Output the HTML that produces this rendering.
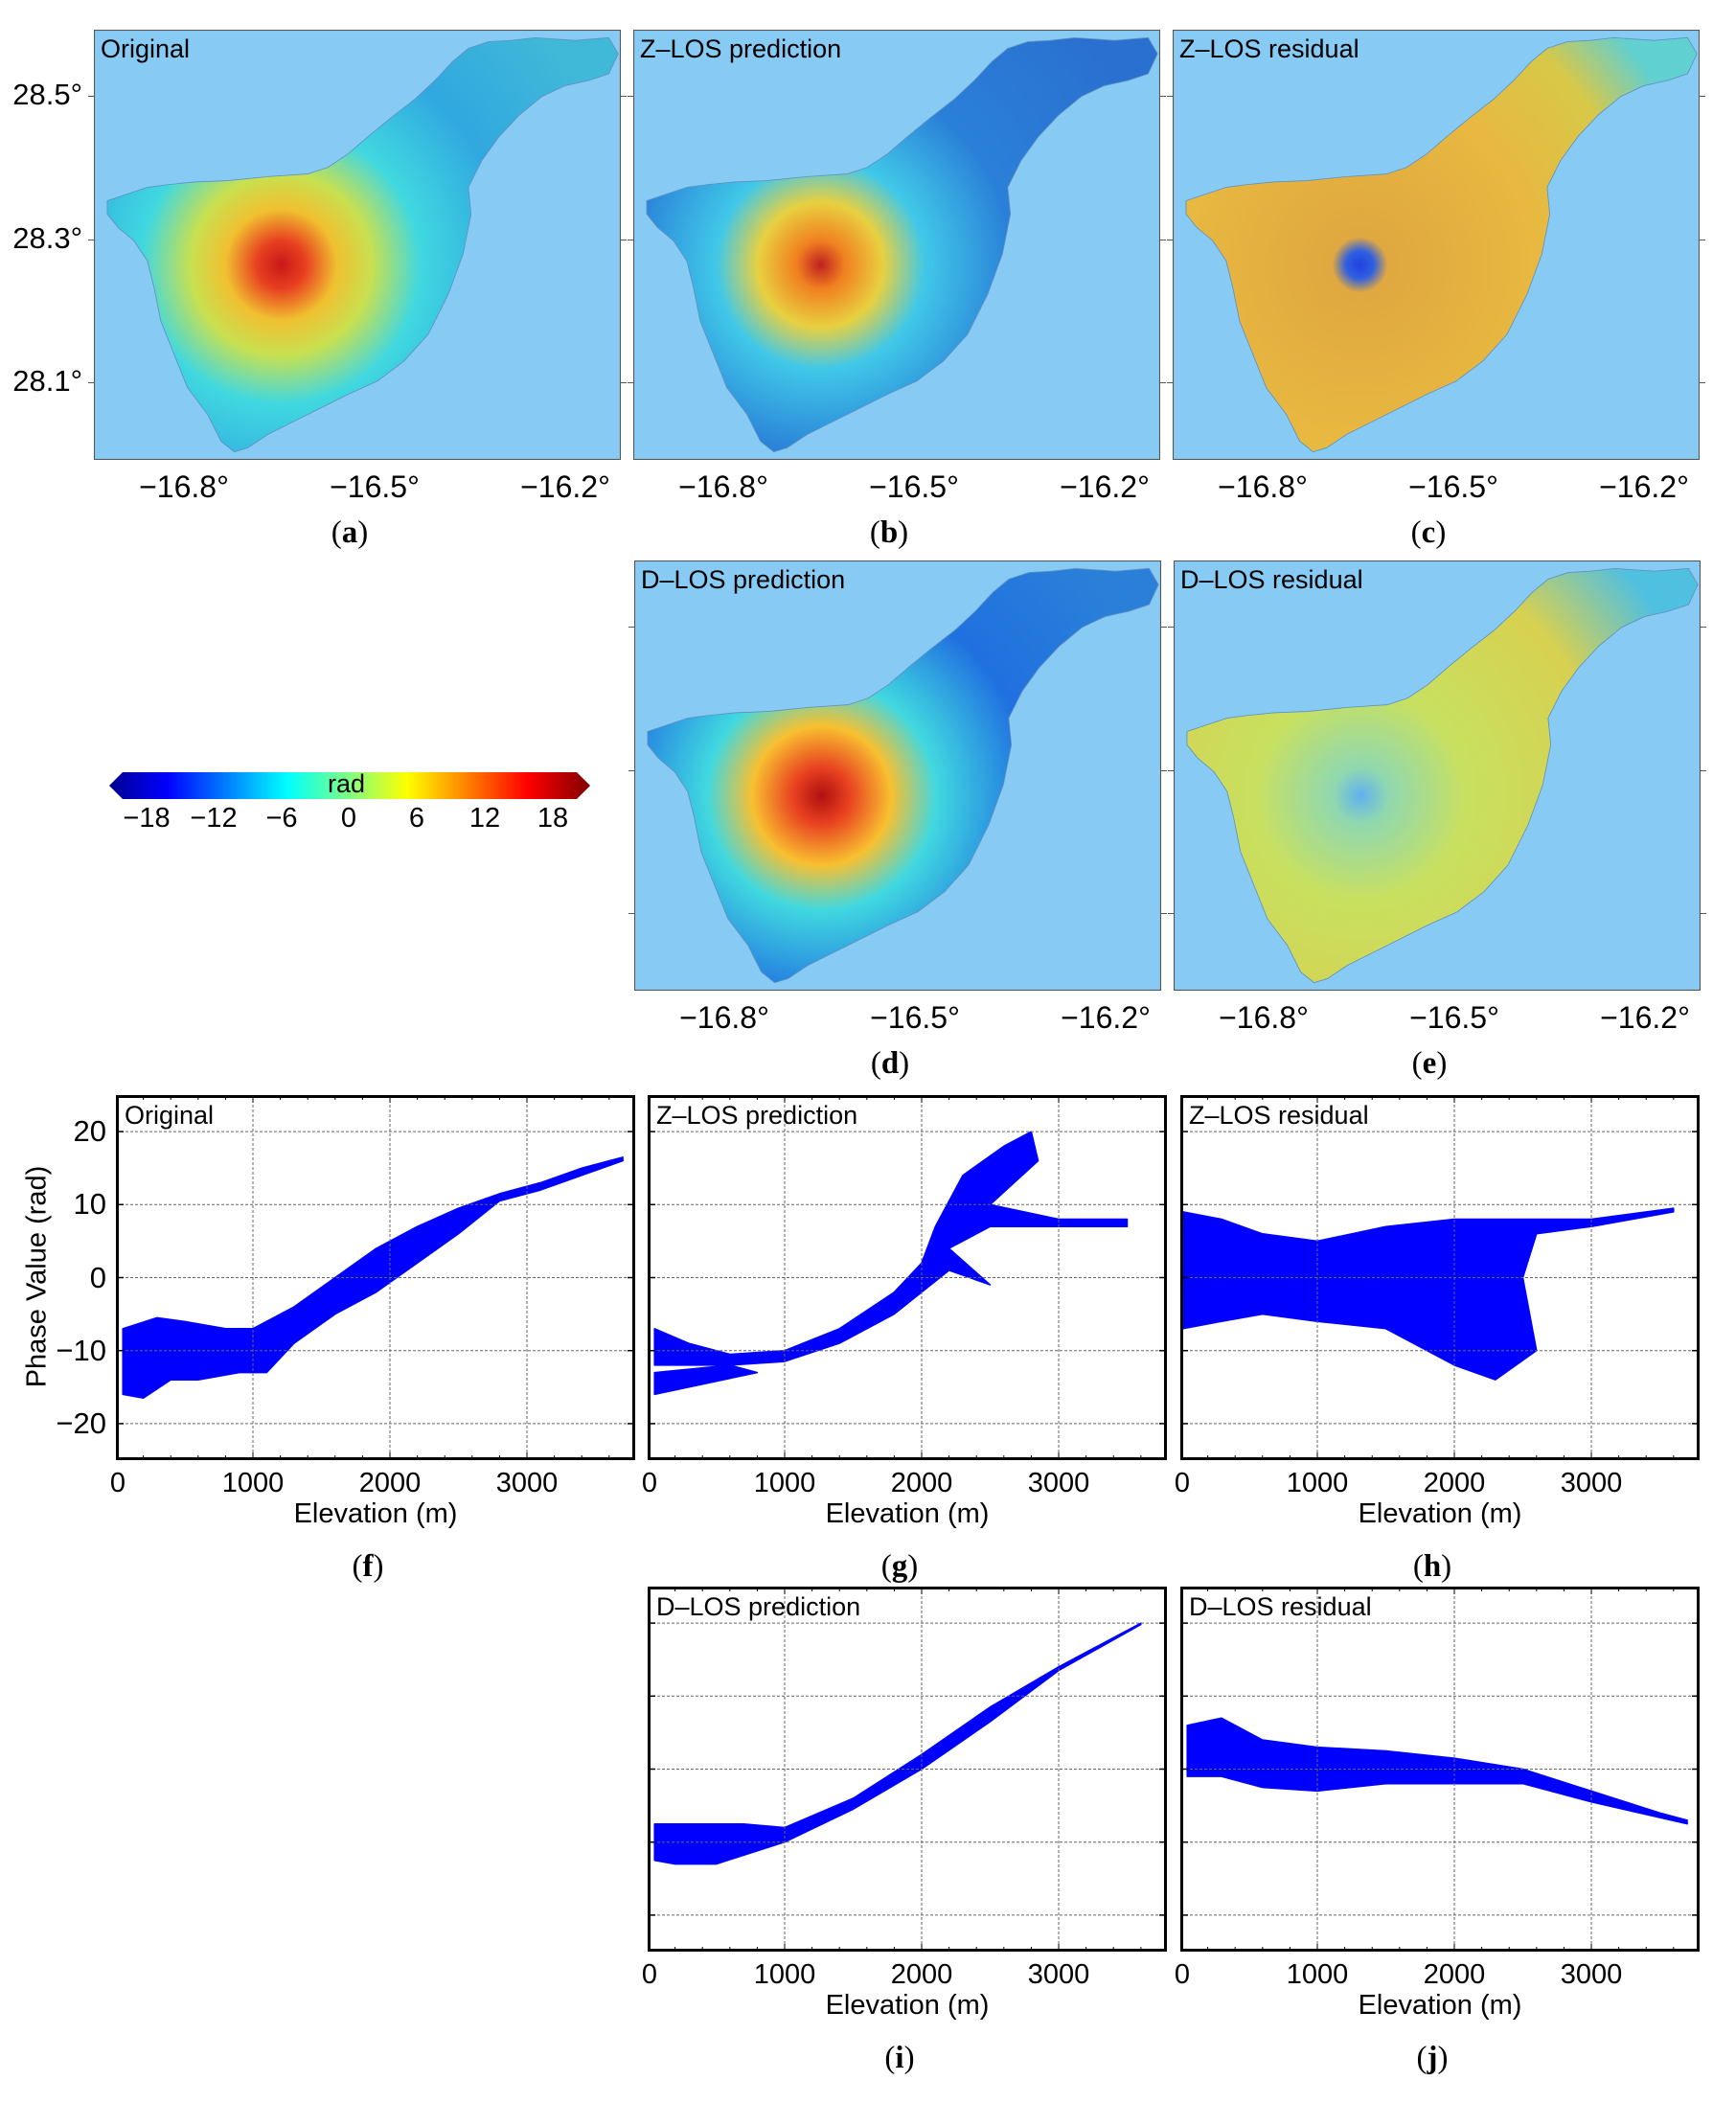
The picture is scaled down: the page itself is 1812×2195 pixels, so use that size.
<!DOCTYPE html>
<html><head><meta charset="utf-8">
<style>
body{margin:0;width:1812px;height:2195px;background:#fff;position:relative;overflow:hidden;font-family:"Liberation Sans",sans-serif;}
.a{position:absolute;}
.tl{position:absolute;font-size:29px;color:#000;white-space:nowrap;transform:translateX(-50%);}
.ml{font-size:32px;}
.ll{position:absolute;font-size:31px;color:#000;white-space:nowrap;text-align:right;}
.pl{position:absolute;font-family:"Liberation Serif",serif;font-size:33px;transform:translateX(-50%);}
.pl b{font-weight:bold;}
.tt{position:absolute;font-size:27px;color:#000;white-space:nowrap;}
</style></head><body>
<script>
var R=document.body;
function add(h){R.insertAdjacentHTML('beforeend',h);}
var island="M10,128 L25,123 40,118 55,116 75,114 100,113 130,110 160,108 175,103 190,93 205,80 222,66 240,52 255,38 268,24 280,14 295,9 312,8 330,6 360,8 385,6 392,18 385,33 370,38 352,42 335,50 318,64 303,80 290,98 280,118 282,138 276,168 265,198 250,228 232,248 212,263 190,273 170,283 150,293 130,303 115,313 105,316 95,308 85,288 70,268 60,243 50,218 45,193 40,173 30,158 18,148 10,138Z";
var grads={
a:[[0,'#c81818'],[0.07,'#e84020'],[0.16,'#f0c030'],[0.26,'#c8e050'],[0.4,'#40d8e0'],[0.65,'#30a8e0'],[1,'#40b8d8']],
b:[[0,'#c02020'],[0.07,'#f08020'],[0.18,'#e8d040'],[0.3,'#40c8e8'],[0.55,'#2a80d8'],[1,'#2a70d0']],
c:[[0,'#2040e0'],[0.04,'#3060e0'],[0.08,'#e0a840'],[0.5,'#e8b840'],[0.8,'#d8c848'],[1,'#60d0d0']],
d:[[0,'#b01010'],[0.08,'#e84020'],[0.2,'#f8c030'],[0.33,'#40d8e0'],[0.6,'#2070e0'],[1,'#2a80d8']],
e:[[0,'#60b0f0'],[0.08,'#90d8b0'],[0.3,'#c8e060'],[0.7,'#d8d050'],[1,'#50c0e0']]};
function map(id,x,y,title,lat,lbl){
 var w=550,h=449;
 var st=grads[id].map(function(s){return '<stop offset="'+s[0]+'" stop-color="'+s[1]+'"/>';}).join('');
 var s='<svg class="a" style="left:'+x+'px;top:'+y+'px" width="'+w+'" height="'+h+'" viewBox="0 0 394 322" preserveAspectRatio="none">'+
 '<defs><radialGradient id="g'+id+'" gradientUnits="userSpaceOnUse" cx="140" cy="176" r="260">'+st+'</radialGradient></defs>'+
 '<rect width="394" height="322" fill="#87cbf5" stroke="#555" stroke-width="1.5"/>'+
 '<path d="'+island+'" fill="url(#g'+id+')" stroke="#6090c0" stroke-width="0.6"/>';
 [67.5,210,353].forEach(function(t){s+='<line x1="'+t+'" y1="0" x2="'+t+'" y2="-5" stroke="#555"/><line x1="'+t+'" y1="322" x2="'+t+'" y2="327" stroke="#555"/>';});
 s+='</svg>';
 add(s);
 add('<div class="tt" style="left:'+(x+7)+'px;top:'+(y+5)+'px">'+title+'</div>');
 [['−16.8°',94],['−16.5°',293],['−16.2°',492]].forEach(function(t){add('<div class="tl ml" style="left:'+(x+t[1])+'px;top:'+(y+h+10)+'px">'+t[0]+'</div>');});
 [69,219,368].forEach(function(t){add('<div class="a" style="left:'+(x-6)+'px;top:'+(y+t)+'px;width:6px;height:1px;background:#555"></div><div class="a" style="left:'+(x+w)+'px;top:'+(y+t)+'px;width:6px;height:1px;background:#555"></div>');});
 if(lat){[['28.5°',69],['28.3°',219],['28.1°',368]].forEach(function(t){add('<div class="ll" style="left:0;width:'+(x-12)+'px;top:'+(y+t[1]-19)+'px">'+t[0]+'</div>');});}
 add('<div class="pl" style="left:'+(x+w/2-8)+'px;top:'+(y+h+58)+'px">(<b>'+lbl+'</b>)</div>');
}
map('a',98,31,'Original',true,'a');
map('b',661,31,'Z–LOS prediction',false,'b');
map('c',1224,31,'Z–LOS residual',false,'c');
map('d',662,585,'D–LOS prediction',false,'d');
map('e',1225,585,'D–LOS residual',false,'e');
add('<svg class="a" style="left:114px;top:806px" width="502" height="28"><defs><linearGradient id="jet"><stop offset="0" stop-color="#00008f"/><stop offset="0.12" stop-color="#0000ff"/><stop offset="0.37" stop-color="#00ffff"/><stop offset="0.5" stop-color="#80ff80"/><stop offset="0.62" stop-color="#ffff00"/><stop offset="0.87" stop-color="#ff0000"/><stop offset="1" stop-color="#800000"/></linearGradient></defs><polygon points="0,14 14,0 488,0 502,14 488,28 14,28" fill="url(#jet)"/></svg>');
add('<div class="a" style="left:342px;top:803px;font-size:27px">rad</div>');
[['−18',153],['−12',223],['−6',294],['0',364],['6',435],['12',506],['18',577]].forEach(function(t){add('<div class="tl" style="left:'+t[1]+'px;top:838px">'+t[0]+'</div>');});
var polys={
f:[["50,-7 300,-5.5 500,-6 800,-7 1000,-7 1300,-4 1600,0 1900,4 2200,7 2500,9.5 2800,11.5 3100,13 3400,15 3700,16.5 3700,16 3400,14 3100,12 2800,10.5 2500,6 2200,2 1900,-2 1600,-5 1300,-9 1100,-13 900,-13 600,-14 400,-14 200,-16.5 50,-16"]],
g:[["50,-7 300,-9 600,-10.5 1000,-10 1400,-7 1800,-2 2000,2 2100,7 2300,14 2600,18 2800,20 2850,16 2500,10 3000,8 3500,8 3500,7 2500,7 2200,4 2500,-1 2200,1 1800,-5 1400,-9 1000,-11.5 600,-12 300,-12 50,-12"],["50,-13 600,-12 800,-13 50,-16"]],
h:[["20,9 300,8 600,6 1000,5 1500,7 2000,8 2500,8 3000,8 3600,9.5 3600,9 3000,7 2600,6 2500,0 2600,-10 2300,-14 2000,-12 1500,-7 1000,-6 600,-5 300,-6 20,-7"]],
i:[["50,-7.5 700,-7.5 1000,-8 1500,-4 2000,2 2500,8.5 3000,14 3400,18 3600,20 3600,19.8 3000,13.5 2500,6.5 2000,0 1500,-5.5 1000,-10 500,-13 200,-13 50,-12.5"]],
j:[["50,6 300,7 600,4 1000,3 1500,2.5 2000,1.5 2500,0 3000,-3 3500,-6 3700,-7 3700,-7.5 3000,-4.5 2500,-2 2000,-2 1500,-2 1000,-3 600,-2.5 300,-1 50,-1"]]};
function sc(id,x,y,title,ylab,lbl){
 var w=542,h=381,xmax=3790;
 function px(v){return v/xmax*w;} function py(v){return (25-v)/50*h;}
 var s='<svg class="a" style="left:'+x+'px;top:'+y+'px" width="'+w+'" height="'+h+'">';
 polys[id].forEach(function(p){var pts=p[0].split(' ').map(function(q){var a=q.split(',');return px(+a[0]).toFixed(1)+','+py(+a[1]).toFixed(1);}).join(' ');s+='<polygon points="'+pts+'" fill="#0000ff" stroke="#0000ff" stroke-width="1.5" stroke-linejoin="round"/>';});
 [1000,2000,3000].forEach(function(v){s+='<line x1="'+px(v)+'" y1="0" x2="'+px(v)+'" y2="'+h+'" stroke="#666" stroke-width="1" stroke-dasharray="3,2"/>';});
 [-20,-10,0,10,20].forEach(function(v){s+='<line x1="0" y1="'+py(v)+'" x2="'+w+'" y2="'+py(v)+'" stroke="#666" stroke-width="1" stroke-dasharray="3,2"/><line x1="0" y1="'+py(v)+'" x2="8" y2="'+py(v)+'" stroke="#000" stroke-width="1.5"/><line x1="'+(w-8)+'" y1="'+py(v)+'" x2="'+w+'" y2="'+py(v)+'" stroke="#000" stroke-width="1.5"/>';});
 for(var v=200;v<3790;v+=200){var k=(v%1000==0)?8:5;s+='<line x1="'+px(v)+'" y1="0" x2="'+px(v)+'" y2="'+k+'" stroke="#000"/><line x1="'+px(v)+'" y1="'+h+'" x2="'+px(v)+'" y2="'+(h-k)+'" stroke="#000"/>';}
 s+='<rect x="1.5" y="1.5" width="'+(w-3)+'" height="'+(h-3)+'" fill="none" stroke="#000" stroke-width="3"/></svg>';
 add(s);
 add('<div class="tt" style="left:'+(x+9)+'px;top:'+(y+6)+'px">'+title+'</div>');
 [0,1000,2000,3000].forEach(function(v){add('<div class="tl" style="left:'+(x+px(v)+(v==0?2:0))+'px;top:'+(y+h+8)+'px">'+v+'</div>');});
 add('<div class="tl" style="left:'+(x+w/2)+'px;top:'+(y+h+40)+'px">Elevation (m)</div>');
 add('<div class="pl" style="left:'+(x+w/2-8)+'px;top:'+(y+h+93)+'px">(<b>'+lbl+'</b>)</div>');
 if(ylab){[20,10,0,-10,-20].forEach(function(v){add('<div class="ll" style="left:0;width:'+(x-10)+'px;top:'+(y+py(v)-18)+'px">'+(v<0?'−'+(-v):v)+'</div>');});
  add('<div class="a" style="left:'+(x-232)+'px;top:'+(y+h/2-18)+'px;width:300px;text-align:center;font-size:29px;white-space:nowrap;transform:rotate(-90deg)">Phase Value (rad)</div>');}
}
sc('f',121,1143,'Original',true,'f');
sc('g',676,1143,'Z–LOS prediction',false,'g');
sc('h',1232,1143,'Z–LOS residual',false,'h');
sc('i',676,1656,'D–LOS prediction',false,'i');
sc('j',1232,1656,'D–LOS residual',false,'j');
</script>
</body></html>
